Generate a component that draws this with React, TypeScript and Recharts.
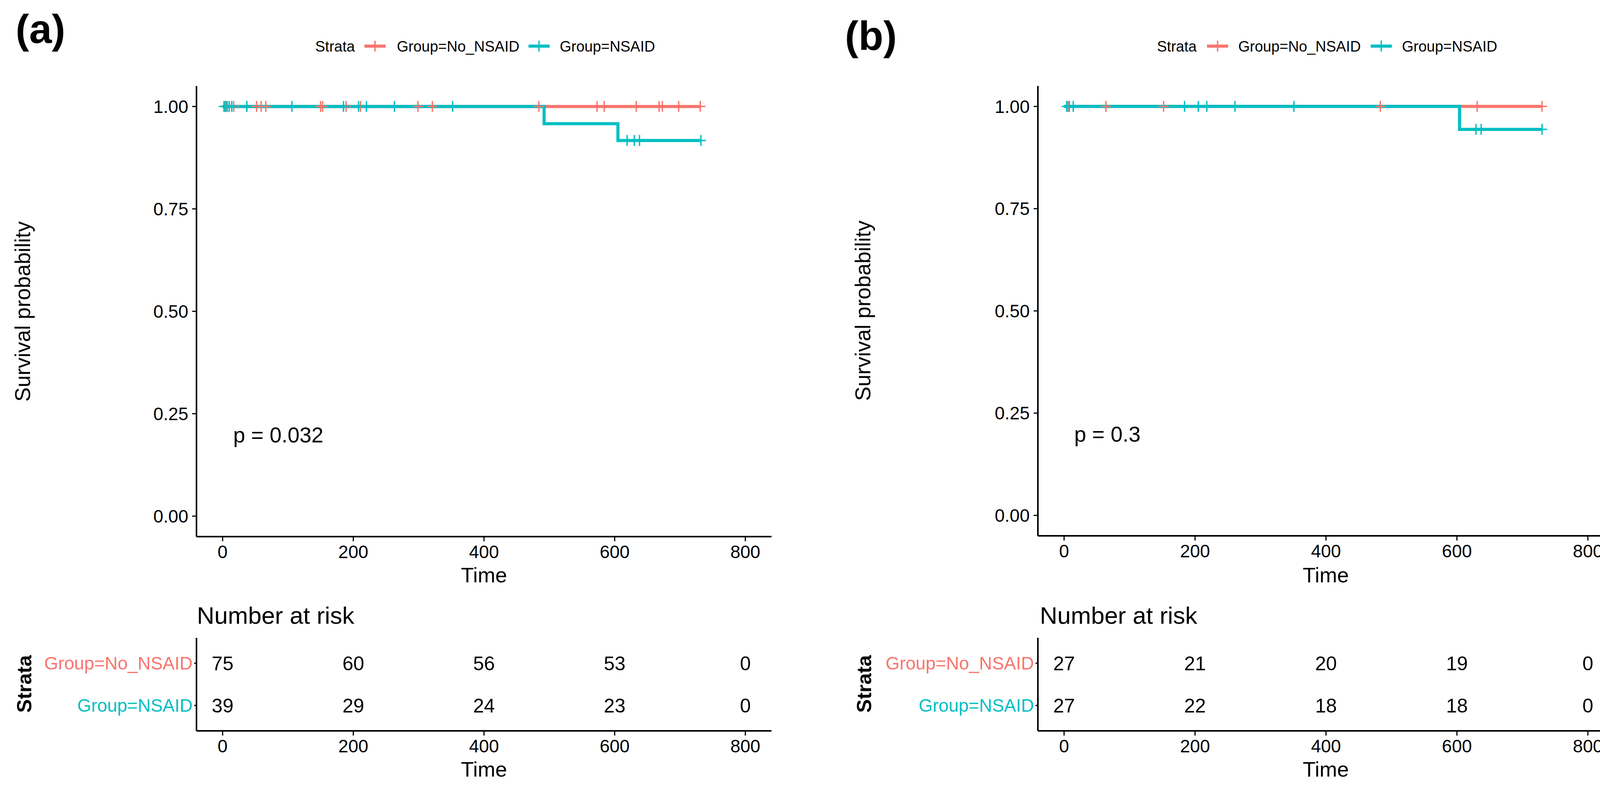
import React from 'react';
import { ComposedChart, Line, Scatter, XAxis, YAxis } from 'recharts';

const RED = '#F8766D';
const TEAL = '#00BFC4';
const FONT = '"Liberation Sans", Arial, Helvetica, sans-serif';

const strata = ['Group=No_NSAID', 'Group=NSAID'];
const timeTicks = [0, 200, 400, 600, 800];
const survTicks = [0, 0.25, 0.5, 0.75, 1];

// panel (a) - KM steps and censor times
const aNoTime = [0, 731];
const aNoSurv = [1, 1];
const aYesTime = [0, 492, 605, 732];
const aYesSurv = [1, 0.958, 0.917, 0.917];
const aNoCensor = [5, 17, 37, 52, 59, 66, 150, 153, 189, 211, 299, 321, 484, 573, 584, 633, 668, 673, 698, 731];
const aYesCensor = [2, 4, 7, 10, 14, 37, 106, 185, 208, 220, 263, 352, 619, 630, 638, 732];
const aRiskNo = [75, 60, 56, 53, 0];
const aRiskYes = [39, 29, 24, 23, 0];

// panel (b)
const bNoTime = [0, 730];
const bNoSurv = [1, 1];
const bYesTime = [0, 604, 730];
const bYesSurv = [1, 0.944, 0.944];
const bNoCensor = [6, 64, 152, 483, 631, 730];
const bYesCensor = [4, 8, 14, 184, 205, 218, 261, 351, 629, 637, 730];
const bRiskNo = [27, 21, 20, 19, 0];
const bRiskYes = [27, 22, 18, 18, 0];

const steps = (times: number[], surv: number[]) => times.map((t, i) => ({ t, s: surv[i] }));
const survAt = (st: { t: number; s: number }[], t: number) => {
  let s = 1;
  st.forEach(p => { if (p.t <= t) s = p.s; });
  return s;
};
const censors = (st: { t: number; s: number }[], times: number[]) => times.map(t => ({ t, s: survAt(st, t) }));
const riskRows = (counts: number[], row: number) => counts.map((n, i) => ({ t: timeTicks[i], row, n }));

const Cross = (props: any) => {
  const { cx, cy, color } = props;
  if (cx == null || cy == null) return null;
  return (
    <g>
      <line x1={cx - 13} x2={cx + 13} y1={cy} y2={cy} stroke={color} strokeWidth={3.5} />
      <line x1={cx} x2={cx} y1={cy - 14} y2={cy + 14} stroke={color} strokeWidth={3.5} />
    </g>
  );
};

const tickStyle = { fill: '#000', fontSize: 46, fontFamily: FONT };
const axisLine = { stroke: '#000', strokeWidth: 4 };
const tickLine = { stroke: '#000', strokeWidth: 3 };

const SurvPanel = ({ left, width, margin, noTime, noSurv, yesTime, yesSurv, noCens, yesCens }: any) => {
  const noSteps = steps(noTime, noSurv);
  const yesSteps = steps(yesTime, yesSurv);
  return (
    <div style={{ position: 'absolute', left, top: 0 }}>
      <ComposedChart width={width} height={1500} margin={margin}>
        <XAxis dataKey="t" type="number" domain={[-40, 840]} ticks={timeTicks} interval={0} allowDataOverflow
          height={100} tick={tickStyle} axisLine={axisLine} tickLine={tickLine} tickSize={12} tickMargin={10} />
        <YAxis dataKey="s" type="number" domain={[-0.05, 1.05]} ticks={survTicks} interval={0} allowDataOverflow
          width={120} tick={tickStyle} axisLine={axisLine} tickLine={tickLine} tickSize={11} tickMargin={10}
          tickFormatter={(v: number) => v.toFixed(2)} />
        <Line data={noSteps} dataKey="s" type="stepAfter" stroke={RED} strokeWidth={8} dot={false} isAnimationActive={false} />
        <Line data={yesSteps} dataKey="s" type="stepAfter" stroke={TEAL} strokeWidth={8} dot={false} isAnimationActive={false} />
        <Scatter data={censors(noSteps, noCens)} dataKey="s" isAnimationActive={false}
          shape={(p: any) => <Cross {...p} color={RED} />} />
        <Scatter data={censors(yesSteps, yesCens)} dataKey="s" isAnimationActive={false}
          shape={(p: any) => <Cross {...p} color={TEAL} />} />
      </ComposedChart>
    </div>
  );
};

const StrataTick = (props: any) => {
  const { x, y, payload } = props;
  const i = payload.value - 1;
  return (
    <text x={x} y={y} dy="0.355em" textAnchor="end" fontSize={46} fontFamily={FONT} fill={i === 0 ? RED : TEAL}>
      {strata[i]}
    </text>
  );
};

const RiskPanel = ({ left, width, margin, riskNo, riskYes }: any) => (
  <div style={{ position: 'absolute', left, top: 1500 }}>
    <ComposedChart width={width} height={529} margin={margin}>
      <XAxis dataKey="t" type="number" domain={[-40, 840]} ticks={timeTicks} interval={0} allowDataOverflow
        height={100} tick={tickStyle} axisLine={axisLine} tickLine={tickLine} tickSize={12} tickMargin={10} />
      <YAxis dataKey="row" type="number" domain={[0.4, 2.6]} ticks={[1, 2]} interval={0} reversed allowDataOverflow
        width={120} tick={<StrataTick />} axisLine={axisLine} tickLine={tickLine} tickSize={6} tickMargin={4} />
      <Scatter data={[...riskRows(riskNo, 1), ...riskRows(riskYes, 2)]} dataKey="row" isAnimationActive={false}
        shape={(p: any) => (
          <text x={p.cx} y={p.cy} dy="0.355em" textAnchor="middle" fontSize={50} fontFamily={FONT} fill="#000">
            {p.payload.n}
          </text>
        )} />
    </ComposedChart>
  </div>
);

const LegendKey = ({ x, color }: { x: number; color: string }) => (
  <g>
    <line x1={x - 27} x2={x + 27} y1={118} y2={118} stroke={color} strokeWidth={8} />
    <line x1={x} x2={x} y1={104} y2={132} stroke={color} strokeWidth={3.5} />
  </g>
);

const Overlay = () => (
  <svg width={4185} height={2029} style={{ position: 'absolute', left: 0, top: 0, pointerEvents: 'none' }} fontFamily={FONT}>
    <text x={40} y={110} fontSize={104} fontWeight="bold">(a)</text>
    <text x={2163} y={127} fontSize={104} fontWeight="bold">(b)</text>

    <text x={807} y={132} fontSize={38}>Strata</text>
    <LegendKey x={960} color={RED} />
    <text x={1016} y={132} fontSize={38}>{strata[0]}</text>
    <LegendKey x={1380} color={TEAL} />
    <text x={1433} y={132} fontSize={38}>{strata[1]}</text>

    <text x={2962} y={132} fontSize={38}>Strata</text>
    <LegendKey x={3117} color={RED} />
    <text x={3170} y={132} fontSize={38}>{strata[0]}</text>
    <LegendKey x={3536} color={TEAL} />
    <text x={3589} y={132} fontSize={38}>{strata[1]}</text>

    <text transform="translate(77,797) rotate(-90)" textAnchor="middle" fontSize={55}>Survival probability</text>
    <text transform="translate(2228,795) rotate(-90)" textAnchor="middle" fontSize={55}>Survival probability</text>

    <text x={1239} y={1490} textAnchor="middle" fontSize={54}>Time</text>
    <text x={3394} y={1490} textAnchor="middle" fontSize={54}>Time</text>
    <text x={1239} y={1987} textAnchor="middle" fontSize={54}>Time</text>
    <text x={3394} y={1987} textAnchor="middle" fontSize={54}>Time</text>

    <text x={597} y={1132} fontSize={55}>p = 0.032</text>
    <text x={2750} y={1130} fontSize={55}>p = 0.3</text>

    <text x={504} y={1596} fontSize={62}>Number at risk</text>
    <text x={2662} y={1596} fontSize={62}>Number at risk</text>

    <text transform="translate(80,1750) rotate(-90)" textAnchor="middle" fontSize={52} fontWeight="bold">Strata</text>
    <text transform="translate(2230,1750) rotate(-90)" textAnchor="middle" fontSize={52} fontWeight="bold">Strata</text>
  </svg>
);

export default function App() {
  return (
    <div style={{ position: 'absolute', left: 0, top: 0, width: 4185, height: 2029, background: '#fff', fontFamily: FONT }}>
      <SurvPanel left={0} width={2090} margin={{ top: 220, right: 115, bottom: 27, left: 383 }}
        noTime={aNoTime} noSurv={aNoSurv} yesTime={aYesTime} yesSurv={aYesSurv} noCens={aNoCensor} yesCens={aYesCensor} />
      <SurvPanel left={2090} width={2095} margin={{ top: 220, right: 53, bottom: 29, left: 447 }}
        noTime={bNoTime} noSurv={bNoSurv} yesTime={bYesTime} yesSurv={bYesSurv} noCens={bNoCensor} yesCens={bYesCensor} />
      <RiskPanel left={0} width={2090} margin={{ top: 132, right: 115, bottom: 59, left: 383 }} riskNo={aRiskNo} riskYes={aRiskYes} />
      <RiskPanel left={2090} width={2095} margin={{ top: 132, right: 53, bottom: 59, left: 447 }} riskNo={bRiskNo} riskYes={bRiskYes} />
      <Overlay />
    </div>
  );
}
